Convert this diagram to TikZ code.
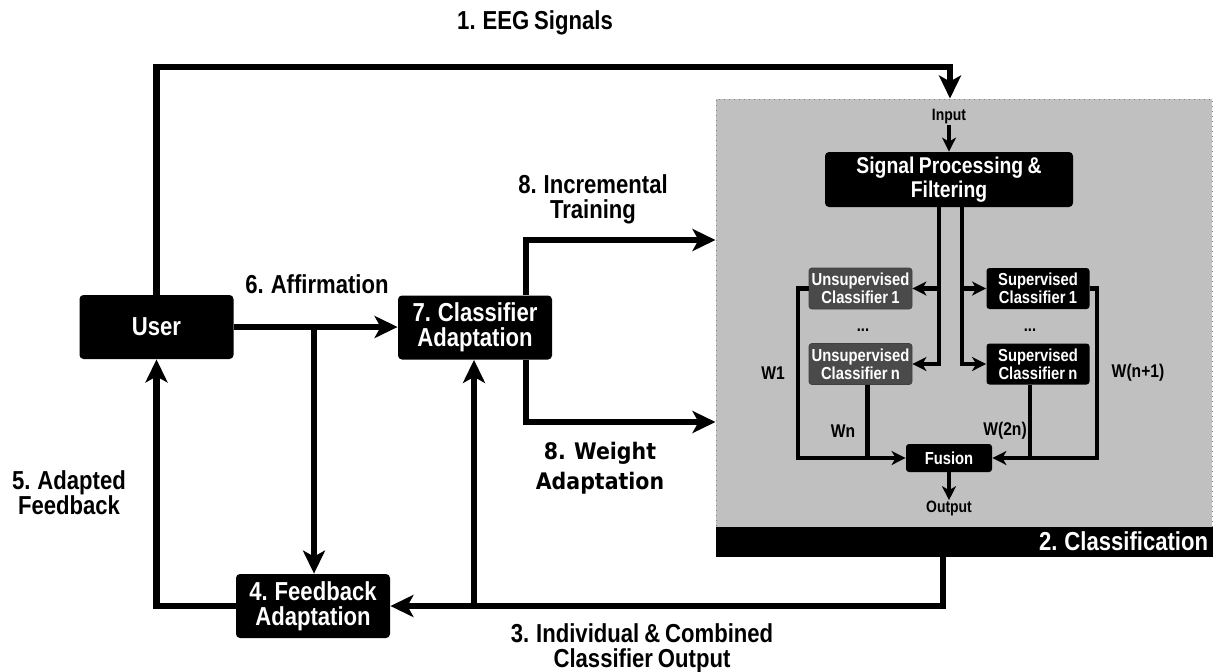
\documentclass[tikz,border=0pt]{standalone}
\usepackage{fontspec}
\setmainfont{Liberation Sans}[FakeStretch=0.85,WordSpace=0.8]
\newfontfamily\wfont{DejaVu Sans}[FakeStretch=0.9,WordSpace=0.8]
\usetikzlibrary{arrows.meta,calc}
\definecolor{panelgray}{HTML}{C0C0C0}
\definecolor{unsupgray}{HTML}{4A4A4A}
\tikzset{
  blk/.style={fill=black, text=white, rounded corners=2pt, align=center, inner sep=0pt,
    minimum width=77pt, minimum height=32pt, font=\bfseries\fontsize{13}{12.5}\selectfont},
  inblk/.style={fill=black, text=white, rounded corners=1.5pt, align=center, inner sep=0pt,
    minimum width=51.5pt, minimum height=20.5pt, font=\bfseries\fontsize{8.7}{7.8}\selectfont},
  unsup/.style={inblk, fill=unsupgray, draw=black!75, line width=0.4pt},
  lbl/.style={align=center, inner sep=0pt, font=\bfseries\fontsize{13}{12.5}\selectfont},
  wlbl/.style={inner sep=0pt, font=\bfseries\fontsize{8.7}{9}\selectfont},
  panel/.style={fill=panelgray, draw=gray, dotted, line width=0.5pt, inner sep=0pt,
    minimum width=248pt, minimum height=228.5pt},
  flow/.style={line width=3.2pt, -{Stealth[length=11.5pt,width=11pt,inset=3pt]}},
  wire/.style={line width=2.2pt},
  inflow/.style={wire, -{Stealth[length=7pt,width=7pt,inset=2pt]}},
}
\begin{document}
\begin{tikzpicture}[x=0.5pt,y=-0.5pt]
\useasboundingbox (0,0) rectangle (1214,671);
\node[panel] (cls) at (964,327.5) {};
\fill (cls.south west) rectangle ($(cls.south east)+(0,-30)$);
\node[lbl, text=white, anchor=east] (clsl) at ($(cls.south east)+(-4,-15)$) {2. Classification};

\node[blk] (user) at (156.5,327) {User};
\node[blk] (clad) at (475,327.5) {7. Classifier\\Adaptation};
\node[blk] (fbad) at (313,606) {4. Feedback\\Adaptation};

\node[blk, minimum width=124pt, minimum height=27.5pt, font=\bfseries\fontsize{11.4}{10.5}\selectfont]
  (spf) at (949,179.5) {Signal Processing \&\\Filtering};
\node[unsup] (unsup1) at (860.5,288.5) {Unsupervised\\Classifier 1};
\node[unsup] (unsupn) at (860.5,364) {Unsupervised\\Classifier n};
\node[inblk] (sup1) at (1038,288.5) {Supervised\\Classifier 1};
\node[inblk] (supn) at (1038,364) {Supervised\\Classifier n};
\node[inblk, minimum width=43pt, minimum height=14pt] (fusion) at (949,458) {Fusion};
\node[wlbl] (dotsl) at (863,330) {...};
\node[wlbl] (dotsr) at (1030,330) {...};

\node[wlbl, font=\bfseries\fontsize{8.2}{9}\selectfont] (inp) at (949,117) {Input};
\node[wlbl, font=\bfseries\fontsize{8.2}{9}\selectfont] (outp) at (949,508) {Output};
\node[wlbl, font=\bfseries\fontsize{9.2}{9}\selectfont] (w1) at (773,373) {W1};
\node[wlbl, font=\bfseries\fontsize{9.2}{9}\selectfont] (wnp) at (1138,373) {W(n+1)};
\node[wlbl, font=\bfseries\fontsize{9.2}{9}\selectfont] (wn) at (843,431) {Wn};
\node[wlbl, font=\bfseries\fontsize{9.2}{9}\selectfont] (w2n) at (1005,431) {W(2n)};

\node[lbl] (eeg) at (535,23) {1. EEG Signals};
\node[lbl] (aff) at (317,284) {6. Affirmation};
\node[lbl] (inc) at (593,199) {8. Incremental\\Training};
\node[lbl, font=\wfont\bfseries\fontsize{11.4}{15}\selectfont] (wgt) at (600,468) {8. Weight\\Adaptation};
\node[lbl] (adfb) at (69,493) {5. Adapted\\Feedback};
\node[lbl] (ico) at (642,648) {3. Individual \& Combined\\Classifier Output};

\coordinate (te) at (950,67);
\draw[flow] (user.north) |- (te) -- (te |- cls.north);
\draw[flow] (user.east) -- (user.east -| clad.west);
\coordinate (ab) at (314,327);
\draw[flow] (ab) -- (ab |- fbad.north);
\coordinate (ti) at (526,240);
\draw[flow] (clad.north -| ti) -- (ti) -- (ti -| cls.west);
\coordinate (wa) at (526,422);
\draw[flow] (clad.south -| wa) -- (wa) -- (wa -| cls.west);
\coordinate (co) at (943,606);
\draw[flow] (cls.south -| co) -- (co) -- (fbad.east);
\coordinate (cb) at (474,606);
\draw[flow] (cb) -- (cb |- clad.south);
\draw[flow] (fbad.west) -| (user.south);

\draw[inflow] (inp.south) -- (spf.north);
\coordinate (sl) at (939,364);
\coordinate (sr) at (962,364);
\draw[inflow] (spf.south -| sl) -- (sl) -- (unsupn.east);
\draw[inflow] (sl |- unsup1.east) -- (unsup1.east);
\draw[inflow] (spf.south -| sr) -- (sr) -- (supn.west);
\draw[inflow] (sr |- sup1.west) -- (sup1.west);
\coordinate (cw1) at (798,458);
\draw[inflow] (unsup1.west) -| (cw1) -- (fusion.west);
\coordinate (cwr) at (1097,458);
\draw[inflow] (sup1.east) -| (cwr) -- (fusion.east);
\coordinate (cwn) at ($(unsupn.south)+(7,0)$);
\draw[wire] (cwn) -- (cwn |- fusion.west);
\coordinate (cw2n) at ($(supn.south)+(-8,0)$);
\draw[wire] (cw2n) -- (cw2n |- fusion.east);
\draw[inflow] (fusion.south) -- (outp.north);
\end{tikzpicture}
\end{document}
